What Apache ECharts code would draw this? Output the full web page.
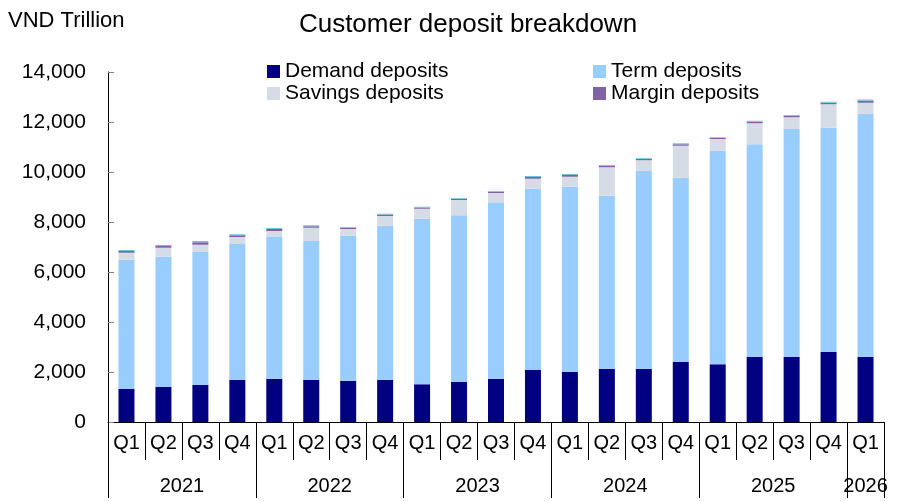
<!DOCTYPE html>
<html>
<head>
<meta charset="utf-8">
<script src="https://cdn.jsdelivr.net/npm/echarts@6/dist/echarts.min.js"></script>
<style>
  html, body { margin: 0; padding: 0; background: #fff; }
  #chart { width: 912px; height: 501px; }
</style>
</head>
<body>
<div id="chart"></div>
<script>
// quarters (VND trillion)
const periods = [
  "2021 Q1", "2021 Q2", "2021 Q3", "2021 Q4",
  "2022 Q1", "2022 Q2", "2022 Q3", "2022 Q4",
  "2023 Q1", "2023 Q2", "2023 Q3", "2023 Q4",
  "2024 Q1", "2024 Q2", "2024 Q3", "2024 Q4",
  "2025 Q1", "2025 Q2", "2025 Q3", "2025 Q4",
  "2026 Q1"
];
const demandDeposits = [1320, 1400, 1480, 1680, 1730, 1690, 1650, 1680, 1510, 1600, 1720, 2080, 2000, 2130, 2120, 2410, 2310, 2600, 2600, 2800, 2600];
const termDeposits = [5170, 5210, 5320, 5440, 5670, 5550, 5800, 6170, 6620, 6670, 7070, 7250, 7410, 6920, 7920, 7360, 8540, 8510, 9120, 8970, 9730];
const savingsDeposits = [280, 360, 290, 280, 240, 530, 270, 390, 400, 610, 370, 400, 400, 1140, 430, 1280, 470, 840, 470, 940, 440];
const marginDeposits = [70, 70, 100, 70, 80, 60, 50, 60, 50, 50, 50, 70, 70, 60, 60, 60, 40, 60, 60, 60, 80];
const otherDeposits = [40, 40, 50, 40, 40, 40, 30, 30, 30, 30, 30, 40, 40, 30, 30, 40, 30, 40, 30, 40, 50];
const yTicks = [0, 2000, 4000, 6000, 8000, 10000, 12000, 14000];

const quarters = periods.map(p => p.split(" ")[1]);
const yearOf = periods.map(p => p.split(" ")[0]);

// year groups: start index and count
const years = [];
yearOf.forEach((y, i) => {
  const last = years[years.length - 1];
  if (last && last.name === y) last.count++;
  else years.push({ name: y, start: i, count: 1 });
});
const yearTicks = years.map(y => y.start).concat([periods.length]);
const yearCenters = years.map(y => y.start + y.count / 2);

const font = "Liberation Sans, Arial, sans-serif";
const chart = echarts.init(document.getElementById("chart"));

const barBase = { type: "bar", stack: "total", barWidth: 16, xAxisIndex: 0 };

chart.setOption({
  animation: false,
  textStyle: { fontFamily: font, color: "#000" },
  title: [
    {
      text: "Customer deposit breakdown",
      left: 463, top: 7, textAlign: "center",
      textStyle: { fontFamily: font, fontSize: 26, fontWeight: "normal", color: "#000" }
    },
    {
      text: "VND Trillion",
      left: 3, top: 5,
      textStyle: { fontFamily: font, fontSize: 22, fontWeight: "normal", color: "#000" }
    }
  ],
  legend: [
    {
      data: ["Demand deposits", "Savings deposits"],
      orient: "vertical", left: 262, top: 56, itemGap: 1,
      itemWidth: 13, itemHeight: 13, icon: "rect",
      textStyle: { fontFamily: font, fontSize: 21, color: "#000" }
    },
    {
      data: ["Term deposits", "Margin deposits"],
      orient: "vertical", left: 588, top: 56, itemGap: 1,
      itemWidth: 13, itemHeight: 13, icon: "rect",
      textStyle: { fontFamily: font, fontSize: 21, color: "#000" }
    }
  ],
  grid: { left: 108, right: 28, top: 72, bottom: 79 },
  xAxis: [
    {
      type: "category",
      data: quarters,
      position: "bottom",
      axisLine: { lineStyle: { color: "#000", width: 1 } },
      axisTick: { show: true, interval: 0, length: 38, lineStyle: { color: "#000" } },
      axisLabel: { interval: 0, margin: 11, fontSize: 20, color: "#000", fontFamily: font },
      splitLine: { show: false }
    },
    {
      type: "value",
      min: 0, max: periods.length,
      position: "bottom",
      axisLine: { show: false },
      axisTick: { show: true, customValues: yearTicks, length: 76, lineStyle: { color: "#000" } },
      axisLabel: {
        customValues: yearCenters, margin: 54, fontSize: 20, color: "#000", fontFamily: font,
        formatter: v => {
          const i = yearCenters.indexOf(v);
          return i >= 0 ? years[i].name : "";
        }
      },
      splitLine: { show: false }
    }
  ],
  yAxis: {
    type: "value",
    min: yTicks[0], max: yTicks[yTicks.length - 1], interval: 2000,
    axisLine: { show: true, lineStyle: { color: "#000" } },
    axisTick: { show: true, inside: true, length: 6, lineStyle: { color: "#808080" } },
    axisLabel: {
      margin: 22, fontSize: 21, color: "#000", fontFamily: font,
      formatter: v => v.toLocaleString("en-US")
    },
    splitLine: { show: false }
  },
  series: [
    Object.assign({ name: "Demand deposits", data: demandDeposits, itemStyle: { color: "#000080" } }, barBase),
    Object.assign({ name: "Term deposits", data: termDeposits, itemStyle: { color: "#99CCFF" } }, barBase),
    Object.assign({ name: "Savings deposits", data: savingsDeposits, itemStyle: { color: "#D6DCE5" } }, barBase),
    Object.assign({ name: "Margin deposits", data: marginDeposits, itemStyle: { color: "#8064A2" } }, barBase),
    Object.assign({ name: "Other deposits", data: otherDeposits, itemStyle: { color: "#6FC3D6" } }, barBase)
  ]
});
</script>
</body>
</html>
